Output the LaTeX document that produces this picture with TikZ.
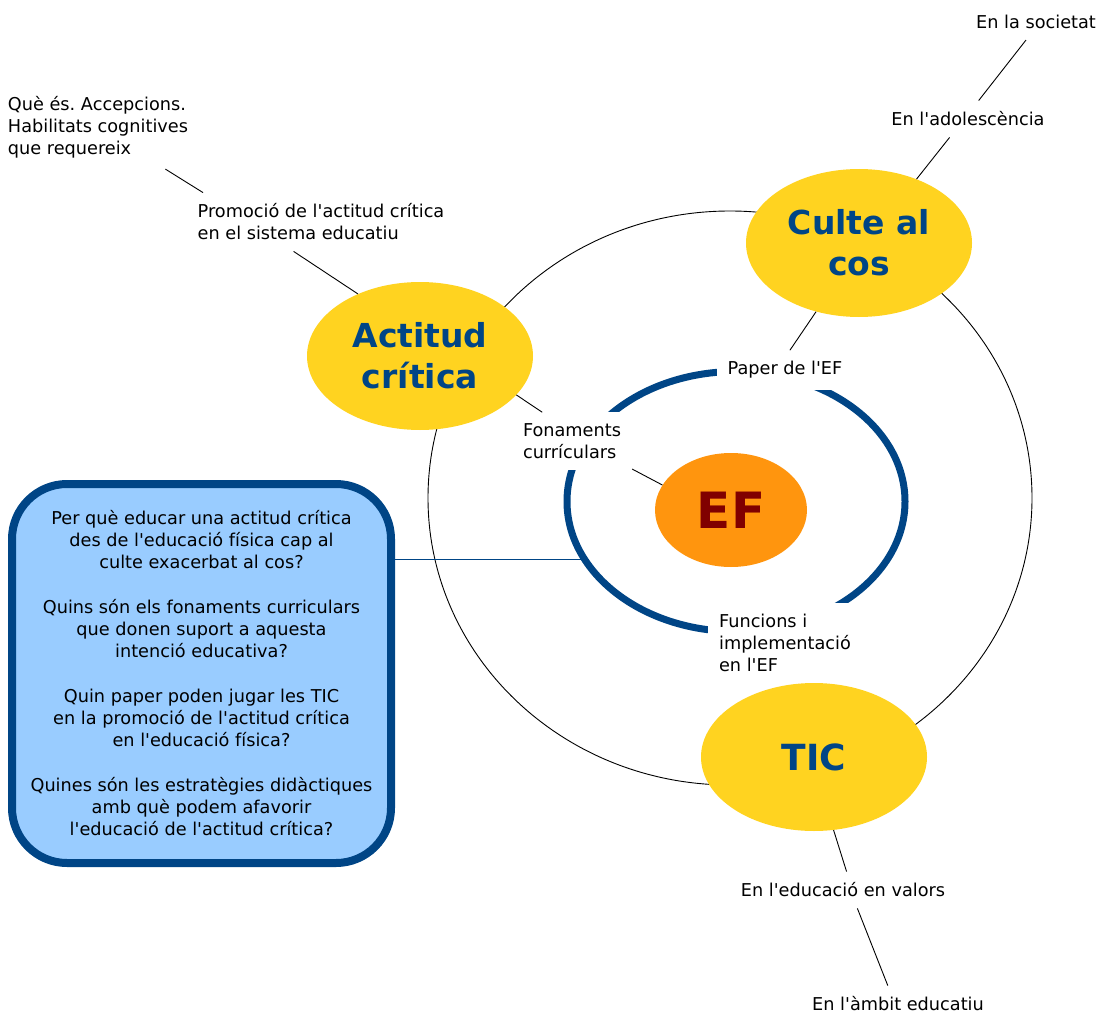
\documentclass[tikz,border=0pt]{standalone}
\usepackage{fontspec}
\setmainfont{DejaVu Sans}[Ligatures=TeXOff]
\usetikzlibrary{shapes.geometric}
\frenchspacing

\definecolor{groc}{HTML}{FFD320}
\definecolor{blau}{HTML}{004586}
\definecolor{taronja}{HTML}{FF950E}
\definecolor{granat}{HTML}{800000}
\definecolor{celeste}{HTML}{99CCFF}

\begin{document}
\begin{tikzpicture}[x=1pt, y=1pt,
        tema/.style={ellipse, fill=groc, text=blau, align=center, inner sep=0pt,
            minimum width=226pt, minimum height=148pt,
            font=\fontsize{33}{41}\selectfont\bfseries},
        etiqueta/.style={fill=white, inner sep=11pt, align=left,
            font=\fontsize{17.7}{22}\selectfont},
        enllac/.style={black, line width=0.9pt},
        anella/.style={blau, line width=7pt}]
        %\draw[step=50pt,gray,very thin] (0,0) grid (1098,-1014);
        \useasboundingbox (0,0) rectangle (1098,-1014);

        % cercle gran que uneix els tres temes
        \draw[enllac] (730,-498) ellipse [x radius=302, y radius=287];

        \node[draw=blau, line width=8pt, fill=celeste, rounded corners=55pt,
            minimum width=379pt, minimum height=379pt, inner sep=0pt, align=center,
            font=\fontsize{17.7}{22}\selectfont] (preguntes) at (201.5,-673.5)
            {Per què educar una actitud crítica\\des de l'educació física cap al\\culte exacerbat al cos?\\[23pt]
             Quins són els fonaments curriculars\\que donen suport a aquesta\\intenció educativa?\\[23pt]
             Quin paper poden jugar les TIC\\en la promoció de l'actitud crítica\\en l'educació física?\\[23pt]
             Quines són les estratègies didàctiques\\amb què podem afavorir\\l'educació de l'actitud crítica?};

        \coordinate (anella_oest) at (584,-559);
        \draw[enllac, blau] (preguntes.east |- anella_oest) -- (anella_oest);

        \draw[anella] (736,-501.5) ellipse [x radius=169, y radius=130];

        \node[tema] (actitud) at (420,-356) {Actitud\\crítica};
        \node[tema] (culte) at (859,-243) {Culte al\\cos};
        \node[tema, font=\fontsize{36}{43}\selectfont\bfseries] (tic) at (814,-757) {TIC};
        \node[ellipse, fill=taronja, text=granat, inner sep=0pt, minimum width=152pt,
            minimum height=114pt, font=\fontsize{50}{60}\selectfont\bfseries] (ef) at (731,-510) {EF};

        \node[etiqueta] (paper) at (785,-370) {Paper de l'EF};
        \node[etiqueta] (fonaments) at (572,-441) {Fonaments\\currículars};
        \node[etiqueta] (funcions) at (785,-643) {Funcions i\\implementació\\en l'EF};

        \node[etiqueta] (societat) at (1036,-22) {En la societat};
        \node[etiqueta] (adolesc) at (968,-119) {En l'adolescència};
        \node[etiqueta] (quees) at (98,-127) {Què és. Accepcions.\\Habilitats cognitives\\que requereix};
        \node[etiqueta] (promo) at (321,-222) {Promoció de l'actitud crítica\\en el sistema educatiu};
        \node[etiqueta] (valors) at (843,-890) {En l'educació en valors};
        \node[etiqueta] (ambit) at (898,-1004) {En l'àmbit educatiu};

        \draw[enllac] (quees.-32) -- (promo.166);
        \draw[enllac] (promo.227) -- (actitud.135);
        \draw[enllac] (actitud.-22) -- (fonaments.136);
        \draw[enllac] (fonaments.-25) -- (ef.160);
        \draw[enllac] (paper.76) -- (culte.238);
        \draw[enllac] (culte.48) -- (adolesc.225);
        \draw[enllac] (adolesc.60) -- (societat.241);
        \draw[enllac] (tic.-75) -- (valors.79);
        \draw[enllac] (valors.-52) -- (ambit.119);
\end{tikzpicture}
\end{document}
